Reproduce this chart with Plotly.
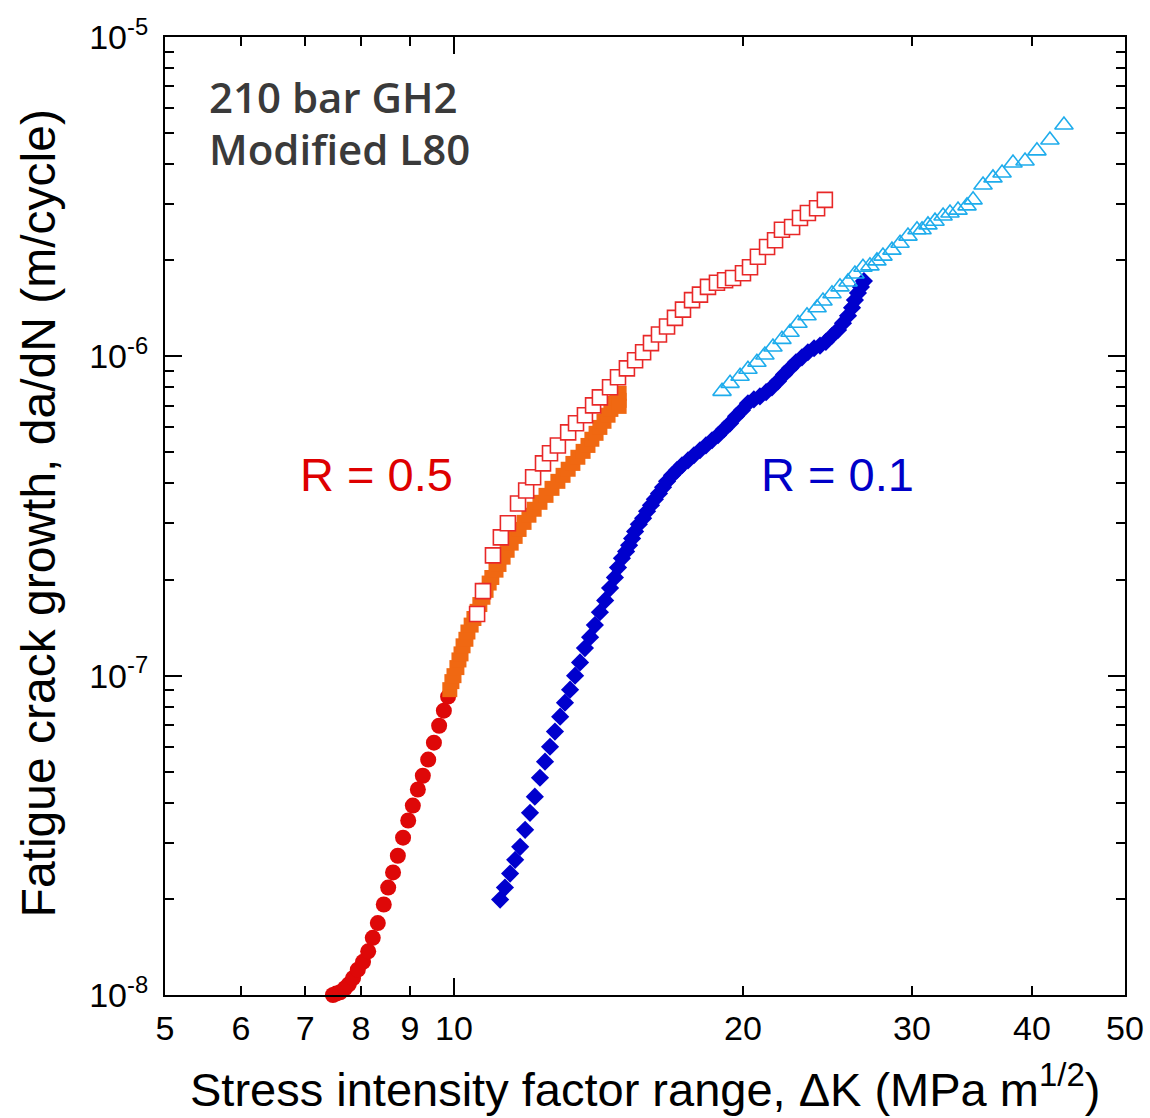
import math
import plotly.graph_objects as go

# ---------------- data ----------------
# R = 0.5, low-rate part (filled circles)
r05_circ_dk = [7.48, 7.54, 7.61, 7.70, 7.77, 7.85, 7.94, 8.04, 8.14, 8.23, 8.33, 8.45, 8.54,
               8.64, 8.74, 8.85, 8.96, 9.06, 9.17, 9.28, 9.40, 9.53, 9.65, 9.76, 9.86]
r05_circ_dadn = [1.00e-8, 1.01e-8, 1.02e-8, 1.05e-8, 1.08e-8, 1.13e-8, 1.20e-8, 1.27e-8, 1.37e-8,
                 1.51e-8, 1.68e-8, 1.92e-8, 2.17e-8, 2.42e-8, 2.73e-8, 3.11e-8, 3.52e-8, 3.92e-8,
                 4.40e-8, 4.86e-8, 5.46e-8, 6.17e-8, 6.97e-8, 7.77e-8, 8.60e-8]

# R = 0.5, mid part (filled orange squares)
r05_sq_dk = [9.90, 9.95, 10.00, 10.07, 10.12, 10.17, 10.22, 10.29, 10.34, 10.42,
             10.49, 10.57, 10.64, 10.72, 10.80, 10.88, 10.95, 11.06, 11.14, 11.25,
             11.36, 11.47, 11.58, 11.69, 11.83, 11.97, 12.12, 12.29, 12.47, 12.65,
             12.83, 12.99, 13.15, 13.30, 13.46, 13.63, 13.79, 13.92, 14.06, 14.19,
             14.33, 14.47, 14.57, 14.68, 14.78, 14.86, 14.86, 14.86]
r05_sq_dadn = [9.04e-8, 9.58e-8, 1.00e-7, 1.06e-7, 1.12e-7, 1.17e-7, 1.24e-7, 1.30e-7, 1.37e-7, 1.44e-7,
               1.51e-7, 1.59e-7, 1.67e-7, 1.76e-7, 1.85e-7, 1.95e-7, 2.03e-7, 2.14e-7, 2.23e-7, 2.35e-7,
               2.47e-7, 2.60e-7, 2.73e-7, 2.87e-7, 3.02e-7, 3.18e-7, 3.32e-7, 3.49e-7, 3.67e-7, 3.86e-7,
               4.06e-7, 4.24e-7, 4.43e-7, 4.62e-7, 4.83e-7, 5.04e-7, 5.26e-7, 5.50e-7, 5.74e-7, 5.99e-7,
               6.26e-7, 6.54e-7, 6.82e-7, 7.13e-7, 7.39e-7, 7.66e-7, 7.28e-7, 6.97e-7]

# R = 0.5, open squares
r05_open_dk = [10.57, 10.72, 10.98, 11.19, 11.38, 11.66, 11.89, 12.09, 12.38, 12.59,
               12.83, 13.15, 13.40, 13.69, 13.96, 14.19, 14.54, 14.82, 15.14, 15.44,
               15.74, 16.04, 16.35, 16.67, 16.99, 17.32, 17.70, 18.04, 18.39, 18.79,
               19.16, 19.53, 20.00, 20.34, 20.73, 21.19, 21.60, 21.96, 22.50, 22.93,
               23.37, 23.89, 24.34]
r05_open_dadn = [1.56e-7, 1.84e-7, 2.38e-7, 2.71e-7, 3.00e-7, 3.46e-7, 3.80e-7, 4.18e-7, 4.62e-7, 4.97e-7,
                 5.26e-7, 5.78e-7, 6.17e-7, 6.54e-7, 7.02e-7, 7.44e-7, 8.00e-7, 8.60e-7, 9.17e-7, 9.72e-7,
                 1.03e-6, 1.10e-6, 1.17e-6, 1.24e-6, 1.32e-6, 1.40e-6, 1.50e-6, 1.56e-6, 1.65e-6, 1.70e-6,
                 1.73e-6, 1.76e-6, 1.82e-6, 1.90e-6, 2.05e-6, 2.20e-6, 2.31e-6, 2.49e-6, 2.54e-6, 2.71e-6,
                 2.81e-6, 2.91e-6, 3.09e-6]

# R = 0.1, filled diamonds
r01_dia_dk = [11.17, 11.30, 11.44, 11.58, 11.72, 11.86, 12.00, 12.14, 12.29, 12.44,
              12.59, 12.74, 12.90, 13.05, 13.21, 13.37, 13.53, 13.69, 13.86, 14.02,
              14.19, 14.37, 14.54, 14.71, 14.82,
              14.96, 15.11, 15.22, 15.33, 15.44, 15.58, 15.74, 15.89, 16.04, 16.19,
              16.35, 16.51, 16.67, 16.87, 17.07, 17.28, 17.53, 17.78, 18.04, 18.30,
              18.57, 18.84, 19.11, 19.39, 19.67, 19.95, 20.24, 20.53, 20.83, 21.14,
              21.44, 21.75, 22.07, 22.39, 22.71, 23.04, 23.37, 23.72, 24.06, 24.40,
              24.76, 25.12, 25.42, 25.73, 25.98, 26.16, 26.35, 26.54, 26.73]
r01_dia_dadn = [1.99e-8, 2.17e-8, 2.40e-8, 2.65e-8, 2.91e-8, 3.29e-8, 3.72e-8, 4.18e-8, 4.79e-8, 5.38e-8,
                5.99e-8, 6.68e-8, 7.44e-8, 8.23e-8, 9.04e-8, 1.00e-7, 1.10e-7, 1.22e-7, 1.32e-7, 1.44e-7,
                1.58e-7, 1.72e-7, 1.88e-7, 2.03e-7, 2.18e-7,
                2.33e-7, 2.45e-7, 2.56e-7, 2.69e-7, 2.83e-7, 2.98e-7, 3.11e-7, 3.27e-7, 3.42e-7, 3.57e-7,
                3.72e-7, 3.89e-7, 4.06e-7, 4.24e-7, 4.40e-7, 4.56e-7, 4.72e-7, 4.90e-7, 5.08e-7, 5.26e-7,
                5.46e-7, 5.66e-7, 5.91e-7, 6.17e-7, 6.49e-7, 6.78e-7, 7.13e-7, 7.33e-7, 7.49e-7, 7.72e-7,
                8.00e-7, 8.35e-7, 8.78e-7, 9.17e-7, 9.58e-7, 9.93e-7, 1.03e-6, 1.06e-6, 1.08e-6, 1.11e-6,
                1.16e-6, 1.21e-6, 1.27e-6, 1.34e-6, 1.42e-6, 1.50e-6, 1.58e-6, 1.65e-6, 1.72e-6]

# R = 0.1, open triangles
r01_tri_dk = [19.02, 19.39, 19.86, 20.24, 20.68, 21.08, 21.49, 21.96, 22.39, 22.82,
              23.32, 23.89, 24.23, 24.76, 25.24, 25.73, 26.16, 26.67, 27.12, 27.58,
              27.98, 28.59, 29.15, 29.71, 30.36, 30.73, 31.17, 31.70, 32.32, 32.86,
              33.50, 34.23, 34.73, 35.57, 36.43, 37.23, 38.22, 39.34, 40.48, 41.76,
              43.19]
r01_tri_dadn = [7.77e-7, 8.23e-7, 8.66e-7, 9.11e-7, 9.58e-7, 1.01e-6, 1.07e-6, 1.13e-6, 1.19e-6, 1.27e-6,
                1.34e-6, 1.42e-6, 1.49e-6, 1.57e-6, 1.65e-6, 1.71e-6, 1.81e-6, 1.90e-6, 1.92e-6, 1.99e-6,
                2.06e-6, 2.15e-6, 2.26e-6, 2.38e-6, 2.49e-6, 2.49e-6, 2.58e-6, 2.65e-6, 2.75e-6, 2.81e-6,
                2.87e-6, 2.96e-6, 3.09e-6, 3.44e-6, 3.62e-6, 3.75e-6, 4.03e-6, 4.09e-6, 4.40e-6, 4.76e-6,
                5.30e-6]

# axis ticks
x_tick_vals = [5, 6, 7, 8, 9, 10, 20, 30, 40, 50]
x_tick_text = ["5", "6", "7", "8", "9", "10", "20", "30", "40", "50"]
y_tick_vals = [1e-8, 1e-7, 1e-6, 1e-5]
y_tick_text = ["10<sup>-8</sup>", "10<sup>-7</sup>", "10<sup>-6</sup>", "10<sup>-5</sup>"]
y_minor_vals = [m * 10.0 ** e for e in (-8, -7, -6) for m in range(2, 10)]

# ---------------- figure ----------------
FONT = "Liberation Sans, Arial, sans-serif"

fig = go.Figure()

fig.add_trace(go.Scatter(
    x=r05_circ_dk, y=r05_circ_dadn, mode="markers", cliponaxis=False,
    marker=dict(symbol="circle", size=16, color="rgb(222,8,8)", line=dict(width=0)),
    showlegend=False))
fig.add_trace(go.Scatter(
    x=r05_sq_dk, y=r05_sq_dadn, mode="markers", cliponaxis=False,
    marker=dict(symbol="square", size=15, color="rgb(240,104,18)", line=dict(width=0)),
    showlegend=False))
fig.add_trace(go.Scatter(
    x=r01_dia_dk, y=r01_dia_dadn, mode="markers", cliponaxis=False,
    marker=dict(symbol="diamond", size=14, color="rgb(0,0,205)", line=dict(width=0)),
    showlegend=False))
fig.add_trace(go.Scatter(
    x=r05_open_dk, y=r05_open_dadn, mode="markers", cliponaxis=False,
    marker=dict(symbol="square", size=15, color="white",
                line=dict(width=1.6, color="rgb(232,40,40)")),
    showlegend=False))
fig.add_trace(go.Scatter(
    x=r01_tri_dk, y=r01_tri_dadn, mode="markers", cliponaxis=False,
    marker=dict(symbol="triangle-up-open", size=16, color="rgb(30,172,236)",
                line=dict(width=1.6, color="rgb(30,172,236)")),
    showlegend=False))

fig.update_xaxes(
    type="log", range=[math.log10(5), math.log10(50)],
    tickvals=x_tick_vals, ticktext=x_tick_text,
    ticks="inside", ticklen=9, tickwidth=2, tickcolor="black",
    showline=True, linewidth=2, linecolor="black", mirror="ticks",
    showgrid=False, zeroline=False,
    tickfont=dict(family=FONT, size=34, color="black"),
    ticklabelstandoff=2,
)
fig.update_yaxes(
    type="log", range=[-8, -5],
    tickvals=y_tick_vals, ticktext=y_tick_text,
    ticks="inside", ticklen=17, tickwidth=2, tickcolor="black",
    minor=dict(tickvals=y_minor_vals, ticks="inside", ticklen=9, tickwidth=2, tickcolor="black"),
    showline=True, linewidth=2, linecolor="black", mirror="ticks",
    showgrid=False, zeroline=False,
    tickfont=dict(family=FONT, size=34, color="black"),
    ticklabelstandoff=8,
)

# longer tick at 10 on bottom and top axes
for anchor, y1 in ((0, 17), (1, -17)):
    fig.add_shape(type="line", xref="x", yref="paper", x0=10, x1=10,
                  ysizemode="pixel", yanchor=anchor, y0=0, y1=y1,
                  line=dict(color="black", width=2))

annotations = [
    dict(text="Stress intensity factor range, ΔK (MPa m<sup>1/2</sup>)",
         x=0.5, y=-0.095, xref="paper", yref="paper", xanchor="center", yanchor="middle",
         showarrow=False, font=dict(family=FONT, size=47, color="black")),
    dict(text="Fatigue crack growth, da/dN (m/cycle)",
         x=-0.132, y=0.503, xref="paper", yref="paper", xanchor="center", yanchor="middle",
         textangle=-90, showarrow=False, font=dict(family=FONT, size=48, color="black")),
    dict(text="210 bar GH2", x=0.044, y=0.938, xref="paper", yref="paper",
         xanchor="left", yanchor="middle", showarrow=False,
         font=dict(family="Open Sans", size=42, color="rgb(58,58,58)", weight=600)),
    dict(text="Modified L80", x=0.044, y=0.884, xref="paper", yref="paper",
         xanchor="left", yanchor="middle", showarrow=False,
         font=dict(family="Open Sans", size=42, color="rgb(58,58,58)", weight=600)),
    dict(text="R = 0.5", x=0.139, y=0.543, xref="paper", yref="paper",
         xanchor="left", yanchor="middle", showarrow=False,
         font=dict(family=FONT, size=47, color="rgb(222,0,0)")),
    dict(text="R = 0.1", x=0.619, y=0.543, xref="paper", yref="paper",
         xanchor="left", yanchor="middle", showarrow=False,
         font=dict(family=FONT, size=47, color="rgb(0,0,200)")),
]

fig.update_layout(
    width=1150, height=1118,
    margin=dict(l=165, r=25, t=37, b=123, autoexpand=False),
    paper_bgcolor="white", plot_bgcolor="white",
    annotations=annotations,
    showlegend=False,
)

fig.write_html("out.html", config={"displayModeBar": False},
               post_script="document.body.style.margin='0';")
